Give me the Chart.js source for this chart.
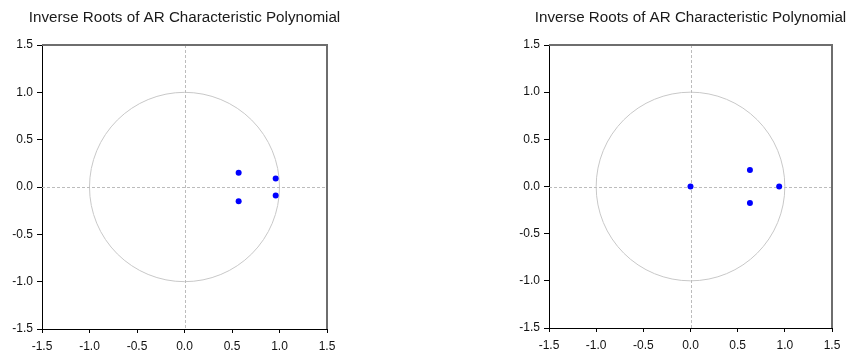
<!DOCTYPE html>
<html>
<head>
<meta charset="utf-8">
<script src="https://cdn.jsdelivr.net/npm/chart.js@4.4.1/dist/chart.umd.min.js"></script>
<style>
  html, body { margin: 0; padding: 0; background: #fff; }
  .panel { position: absolute; top: 0; height: 358px; }
</style>
</head>
<body>
<div class="panel" style="left:0;width:345px"><canvas id="leftChart"></canvas></div>
<div class="panel" style="left:505px;width:343px"><canvas id="rightChart"></canvas></div>
<script>
const titleText = 'Inverse Roots of AR Characteristic Polynomial';
const axisTicks = [-1.5, -1.0, -0.5, 0.0, 0.5, 1.0, 1.5];

// inverse roots, real and imaginary parts
const leftRe = [0.57, 0.57, 0.96, 0.96];
const leftIm = [0.15, -0.15, 0.09, -0.09];
const rightRe = [0.0, 0.63, 0.63, 0.94];
const rightIm = [0.0, 0.175, -0.175, 0.0];

const FONT = '"Liberation Sans", Arial, sans-serif';

// unit circle, zero lines, frame and title
const rootsPlot = {
    id: 'rootsPlot',
    beforeDatasetsDraw: function (chart) {
        const ctx = chart.ctx;
        const a = chart.chartArea;
        const x = chart.scales.x, y = chart.scales.y;
        const cx = x.getPixelForValue(0), cy = y.getPixelForValue(0);
        const rx = x.getPixelForValue(1) - cx;
        const ry = cy - y.getPixelForValue(1);
        ctx.save();
        ctx.strokeStyle = '#c8c8c8';
        ctx.lineWidth = 1;
        ctx.beginPath();
        ctx.ellipse(cx, cy, rx, ry, 0, 0, Math.PI * 2);
        ctx.stroke();

        ctx.strokeStyle = '#bcbcbc';
        ctx.setLineDash([3, 2]);
        ctx.beginPath();
        ctx.moveTo(Math.round(cx) + 0.5, a.top);
        ctx.lineTo(Math.round(cx) + 0.5, a.bottom);
        ctx.moveTo(a.left, Math.round(cy) + 0.5);
        ctx.lineTo(a.right, Math.round(cy) + 0.5);
        ctx.stroke();
        ctx.restore();
    },
    afterDraw: function (chart) {
        const ctx = chart.ctx;
        const a = chart.chartArea;
        ctx.save();
        ctx.strokeStyle = '#6e6e6e';
        ctx.lineWidth = 2;
        ctx.beginPath();
        ctx.moveTo(a.left, a.top);
        ctx.lineTo(a.right, a.top);
        ctx.lineTo(a.right, a.bottom);
        ctx.stroke();

        ctx.fillStyle = '#1a1a1a';
        ctx.font = '15.2px ' + FONT;
        ctx.textAlign = 'center';
        ctx.textBaseline = 'alphabetic';
        ctx.fillText(titleText, (a.left + a.right) / 2, 22);
        ctx.restore();
    }
};

function makeChart(id, re, im, yWidth, xHeight, rightPad) {
    const points = re.map(function (v, i) { return { x: v, y: im[i] }; });
    const axis = function (fixed, isX) {
        return {
            type: 'linear',
            min: -1.5,
            max: 1.5,
            afterBuildTicks: function (scale) {
                scale.ticks = axisTicks.map(function (v) { return { value: v }; });
            },
            afterFit: function (scale) {
                if (isX) scale.height = fixed; else scale.width = fixed;
            },
            grid: {
                display: true,
                drawOnChartArea: false,
                drawTicks: true,
                tickLength: isX ? 4 : 5,
                tickColor: '#000',
                color: '#000'
            },
            border: { display: true, color: '#000', width: 1 },
            ticks: {
                padding: isX ? 6 : 4,
                color: '#111',
                font: { family: FONT, size: 12 },
                maxRotation: 0,
                callback: function (v) { return Number(v).toFixed(1); }
            }
        };
    };
    return new Chart(document.getElementById(id).getContext('2d'), {
        type: 'scatter',
        data: {
            datasets: [{
                data: points,
                backgroundColor: '#0000ff',
                borderColor: '#0000ff',
                pointRadius: 3,
                pointBorderWidth: 0
            }]
        },
        options: {
            responsive: true,
            maintainAspectRatio: false,
            animation: false,
            layout: { padding: { top: 45, right: rightPad, left: 0, bottom: 0 } },
            plugins: { legend: { display: false }, tooltip: { enabled: false } },
            scales: {
                x: axis(xHeight, true),
                y: axis(yWidth, false)
            }
        },
        plugins: [rootsPlot]
    });
}

makeChart('leftChart', leftRe, leftIm, 42, 29, 18);
makeChart('rightChart', rightRe, rightIm, 44, 30, 16);
</script>
</body>
</html>
